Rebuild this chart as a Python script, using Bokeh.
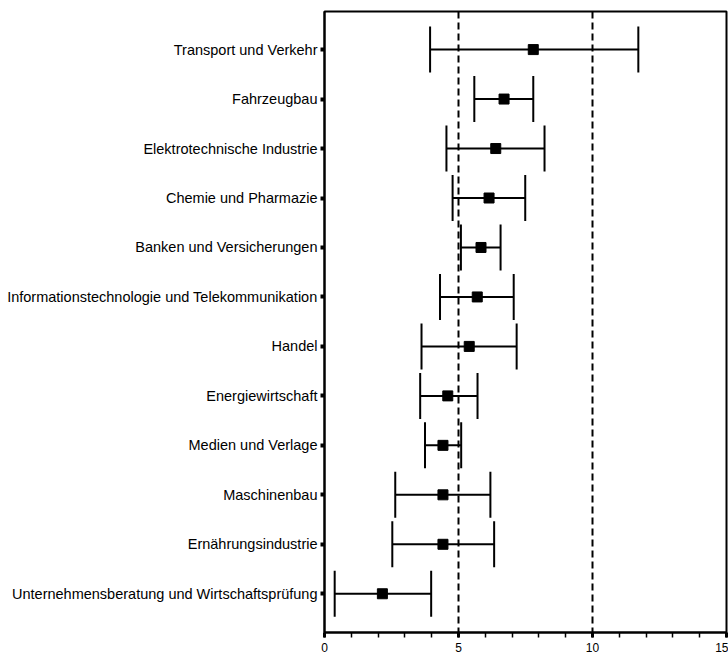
from bokeh.plotting import figure
from bokeh.models import (ColumnDataSource, Whisker, TeeHead, Span, FixedTicker,
                          Range1d, SingleIntervalTicker)
from bokeh.embed import file_html
from bokeh.resources import INLINE

categories = [
    "Unternehmensberatung und Wirtschaftsprüfung",
    "Ernährungsindustrie",
    "Maschinenbau",
    "Medien und Verlage",
    "Energiewirtschaft",
    "Handel",
    "Informationstechnologie und Telekommunikation",
    "Banken und Versicherungen",
    "Chemie und Pharmazie",
    "Elektrotechnische Industrie",
    "Fahrzeugbau",
    "Transport und Verkehr",
]
mean = [2.16, 4.42, 4.42, 4.42, 4.60, 5.40, 5.70, 5.84, 6.14, 6.39, 6.70, 7.79]
low = [0.38, 2.53, 2.64, 3.75, 3.57, 3.62, 4.31, 5.09, 4.78, 4.55, 5.59, 3.94]
high = [3.98, 6.33, 6.19, 5.10, 5.71, 7.17, 7.06, 6.57, 7.49, 8.21, 7.79, 11.71]
ref_lines = [5, 10]

pos = list(range(1, len(categories) + 1))
src = ColumnDataSource(dict(y=pos, mean=mean, low=low, high=high))

FONT = "Liberation Sans"

p = figure(width=728, height=656, output_backend="svg", toolbar_location=None,
           x_range=Range1d(0, 15), y_range=Range1d(0.217, 12.77),
           min_border_left=324, min_border_right=2, min_border_top=11,
           min_border_bottom=24)
p.grid.visible = False
p.outline_line_color = "black"
p.outline_line_width = 2
p.background_fill_color = "white"
p.border_fill_color = "white"

for v in ref_lines:
    p.add_layout(Span(location=v, dimension="height", line_color="black",
                      line_width=2, line_dash="7 4"))

w = Whisker(source=src, base="y", lower="low", upper="high", dimension="width",
            line_color="black", line_width=2,
            lower_head=TeeHead(size=46, line_color="black", line_width=2),
            upper_head=TeeHead(size=46, line_color="black", line_width=2))
p.add_layout(w)

p.scatter(x="mean", y="y", source=src, marker="square", size=10,
          fill_color="black", line_color="black")

# x axis
p.xaxis.ticker = SingleIntervalTicker(interval=5, num_minor_ticks=5)
p.xaxis.axis_line_width = 2
p.xaxis.axis_line_color = "black"
p.xaxis.major_tick_in = 0
p.xaxis.major_tick_out = 5
p.xaxis.major_tick_line_width = 3
p.xaxis.minor_tick_in = 0
p.xaxis.minor_tick_out = 5
p.xaxis.minor_tick_line_width = 1.5
p.xaxis.major_label_text_font = FONT
p.xaxis.major_label_text_font_size = "12px"
p.xaxis.major_label_text_color = "black"
p.xaxis.major_label_standoff = 5

# y axis
p.yaxis.ticker = FixedTicker(ticks=pos)
p.yaxis.major_label_overrides = {i: c for i, c in zip(pos, categories)}
p.yaxis.axis_line_width = 2
p.yaxis.axis_line_color = "black"
p.yaxis.major_tick_in = 0
p.yaxis.major_tick_out = 4
p.yaxis.major_tick_line_width = 4
p.yaxis.minor_tick_line_color = None
p.yaxis.major_label_text_font = FONT
p.yaxis.major_label_text_font_size = "14.5px"
p.yaxis.major_label_text_color = "black"
p.yaxis.major_label_standoff = 3

open("out.html", "w").write(file_html(p, INLINE))
